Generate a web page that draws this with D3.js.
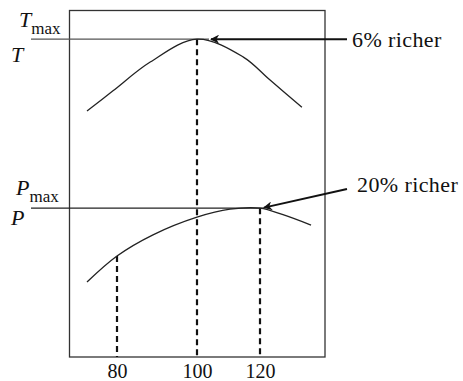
<!DOCTYPE html>
<html>
<head>
<meta charset="utf-8">
<script src="https://cdn.jsdelivr.net/npm/d3@7"></script>
<style>
    body { margin: 0; background: #fff; }
    text { font-family: "Liberation Serif", "DejaVu Serif", serif; fill: #111; }
</style>
</head>
<body>
<svg id="chart" width="463" height="381"></svg>
<script>
"use strict";

// data (x in % of stoichiometric fuel, y in arbitrary units)
const xTicks = [80, 100, 120];
const tempX = [72.5, 79, 88.3, 100, 114.6, 123.2, 133.3];
const tempY = [70.9, 76.7, 85.0, 91.6, 86.5, 79.8, 72.0];
const powerX = [72.5, 80, 89, 100, 110.5, 120, 127.3, 136.2];
const powerY = [21.6, 29.1, 35.2, 40.3, 42.6, 42.9, 41.0, 38.0];
const tMax = 91.6, pMax = 42.9;
const tPeakX = 100, pPeakX = 120, pLowX = 80;
const notes = ["6% richer", "20% richer"];

// setting
const frame = {left: 69.5, right: 325, top: 10.5, bottom: 357};

let svg = d3.select("#chart");

// scales
let scaleX = d3.scaleLinear()
    .domain([80, 100, 120])
    .range([117, 197, 260]);

let scaleY = d3.scaleLinear()
    .domain([0, 100])
    .range([frame.bottom, frame.bottom - 347]);

// arrow head
svg.append("defs").append("marker")
    .attr("id", "head")
    .attr("viewBox", "0 0 10 10")
    .attr("refX", 9).attr("refY", 5)
    .attr("markerWidth", 6).attr("markerHeight", 4.5)
    .attr("markerUnits", "strokeWidth")
    .attr("orient", "auto")
    .append("path")
    .attr("d", "M0,0 L10,5 L0,10 L3,5 Z")
    .attr("fill", "#111");

// frame
svg.append("rect")
    .attr("x", frame.left).attr("y", frame.top)
    .attr("width", frame.right - frame.left)
    .attr("height", frame.bottom - frame.top)
    .attr("fill", "none")
    .attr("stroke", "#333")
    .attr("stroke-width", 1.3);

// x axis labels
let xAxis = svg.append("g")
    .attr("class", "x_axis")
    .attr("transform", `translate(0, ${frame.bottom})`)
    .call(d3.axisBottom(scaleX).tickValues(xTicks).tickSize(0).tickPadding(7));
xAxis.select(".domain").remove();
xAxis.selectAll("text")
    .style("font-size", "20px")
    .attr("fill", "#111");

// max lines
svg.append("line")
    .attr("x1", 31).attr("x2", scaleX(tPeakX) + 12)
    .attr("y1", scaleY(tMax)).attr("y2", scaleY(tMax))
    .attr("stroke", "#555").attr("stroke-width", 1.4);
svg.append("line")
    .attr("x1", 31).attr("x2", scaleX(pPeakX) + 4)
    .attr("y1", scaleY(pMax)).attr("y2", scaleY(pMax))
    .attr("stroke", "#222").attr("stroke-width", 1.4);

// dashed drop lines
const drops = [[pLowX, d3.max(powerY.filter((d, i) => powerX[i] == pLowX))], [tPeakX, tMax], [pPeakX, pMax]];
svg.selectAll("line.drop")
    .data(drops)
    .enter().append("line")
    .attr("class", "drop")
    .attr("x1", d => scaleX(d[0])).attr("x2", d => scaleX(d[0]))
    .attr("y1", d => scaleY(d[1])).attr("y2", frame.bottom)
    .attr("stroke", "#111")
    .attr("stroke-width", 2.2)
    .attr("stroke-dasharray", "6,4");

// curves
let line = d3.line()
    .x(d => scaleX(d[0]))
    .y(d => scaleY(d[1]))
    .curve(d3.curveCatmullRom.alpha(0.5));

svg.append("path")
    .datum(tempX.map((x, i) => [x, tempY[i]]))
    .attr("d", line)
    .attr("fill", "none").attr("stroke", "#222").attr("stroke-width", 1.3);
svg.append("path")
    .datum(powerX.map((x, i) => [x, powerY[i]]))
    .attr("d", line)
    .attr("fill", "none").attr("stroke", "#222").attr("stroke-width", 1.3);

// arrows
svg.append("line")
    .attr("x1", 347).attr("y1", scaleY(tMax))
    .attr("x2", scaleX(tPeakX) + 14).attr("y2", scaleY(tMax))
    .attr("stroke", "#111").attr("stroke-width", 2)
    .attr("marker-end", "url(#head)");
svg.append("line")
    .attr("x1", 347).attr("y1", 189)
    .attr("x2", scaleX(pPeakX) + 4).attr("y2", scaleY(pMax) - 0.5)
    .attr("stroke", "#111").attr("stroke-width", 2)
    .attr("marker-end", "url(#head)");

// notes
svg.append("text").attr("x", 352).attr("y", 47).style("font-size", "22px").attr("letter-spacing", 0.4).text(notes[0]);
svg.append("text").attr("x", 357).attr("y", 192).style("font-size", "22px").attr("letter-spacing", 0.4).text(notes[1]);

// y labels
function symbol(x, y, letter, sub) {
    let t = svg.append("text").attr("x", x).attr("y", y).style("font-size", "22px");
    t.append("tspan").style("font-style", "italic").text(letter);
    if (sub) {
        t.append("tspan").attr("dx", 0).attr("dy", 7).style("font-size", "17px").text(sub);
    }
}
symbol(19, 27, "T", "max");
symbol(11, 62, "T");
symbol(16, 195, "P", "max");
symbol(11, 225, "P");
</script>
</body>
</html>
